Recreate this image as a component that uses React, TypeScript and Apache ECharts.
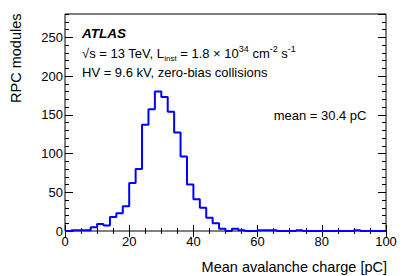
import React, { useEffect, useRef } from "react";
import * as echarts from "echarts";

// Histogram: bin width 2 pC, from 0 to 100 pC
const binWidth = 2;
const binStarts = Array.from({ length: 50 }, (_, i) => i * 2);
const counts = [
  0, 1, 1, 1, 5, 9, 7, 18, 23, 32,
  62, 80, 137, 157, 180, 173, 154, 127, 96, 60,
  41, 30, 17, 10, 3, 0, 3, 1, 0, 0,
  1, 1, 1, 0, 0, 0, 1, 0, 0, 0,
  0, 0, 0, 0, 0, 1, 0, 0, 0, 0,
];
const xTicks = [0, 20, 40, 60, 80, 100];
const yTicks = [0, 50, 100, 150, 200, 250];

const FONT = '"Liberation Sans", Arial, Helvetica, sans-serif';

export default function App() {
  const ref = useRef<HTMLDivElement>(null);
  useEffect(() => {
    if (!ref.current) return;
    const chart = echarts.init(ref.current, undefined, { renderer: "svg" });
    const data: [number, number][] = binStarts.map((x, i) => [x, counts[i]]);
    data.push([binStarts[binStarts.length - 1] + binWidth, counts[counts.length - 1]]);

    const tickStyle = { color: "#000", width: 1 };
    const baseX = {
      type: "value" as const,
      min: xTicks[0],
      max: xTicks[xTicks.length - 1],
      interval: 20,
      axisLine: { show: false },
      splitLine: { show: false },
      minorSplitLine: { show: false },
      axisTick: { show: true, inside: true, length: 6, lineStyle: tickStyle },
      minorTick: { show: true, splitNumber: 4, length: 3, lineStyle: tickStyle },
    };
    const baseY = (interval: number, len: number) => ({
      type: "value" as const,
      min: 0,
      max: 280,
      interval,
      axisLine: { show: false },
      splitLine: { show: false },
      axisTick: { show: true, inside: true, length: len, lineStyle: tickStyle },
      axisLabel: { show: false },
    });

    chart.setOption({
      animation: false,
      grid: {
        left: 65,
        right: 21,
        top: 14,
        bottom: 45,
        show: true,
        borderColor: "#000",
        borderWidth: 1,
        backgroundColor: "transparent",
        containLabel: false,
      },
      xAxis: [
        {
          ...baseX,
          position: "bottom",
          axisLabel: {
            show: true,
            fontSize: 13,
            fontFamily: FONT,
            color: "#000",
            margin: 4,
          },
        },
        { ...baseX, position: "top", axisLabel: { show: false } },
      ],
      yAxis: [
        {
          ...baseY(50, 8),
          position: "left",
          axisLabel: {
            show: true,
            fontSize: 13,
            fontFamily: FONT,
            color: "#000",
            margin: 2,
            showMaxLabel: false,
            formatter: (v: number) => (yTicks.includes(v) ? String(v) : ""),
          },
        },
        { ...baseY(10, 4), position: "left" },
        { ...baseY(50, 8), position: "right" },
        { ...baseY(10, 4), position: "right" },
      ],
      series: [
        {
          type: "line",
          xAxisIndex: 0,
          yAxisIndex: 0,
          step: "end",
          symbol: "none",
          clip: false,
          data,
          lineStyle: { color: "#0000ff", width: 2 },
          z: 5,
        },
      ],
      graphic: [
        {
          type: "text",
          x: 82,
          y: 33.5,
          style: {
            text: "ATLAS",
            fontFamily: FONT,
            fontSize: 13.5,
            fontWeight: "bold",
            fontStyle: "italic",
            fill: "#000",
            verticalAlign: "middle",
          },
        },
        {
          type: "text",
          x: 82,
          y: 53,
          style: {
            text:
              "{m|√s = 13 TeV, L}{sub|inst}{m| = 1.8 × 10}{sup|34}{m| cm}{sup|-2}{m| s}{sup|-1}",
            fontFamily: FONT,
            fontSize: 13,
            fill: "#000",
            verticalAlign: "middle",
            rich: {
              m: { fontFamily: FONT, fontSize: 13, lineHeight: 18, fill: "#000" },
              sub: { fontFamily: FONT, fontSize: 8, lineHeight: 10, verticalAlign: "bottom", fill: "#000" },
              sup: { fontFamily: FONT, fontSize: 9, lineHeight: 11, verticalAlign: "top", fill: "#000" },
            },
          },
        },
        {
          type: "text",
          x: 82,
          y: 72.5,
          style: {
            text: "HV = 9.6 kV, zero-bias collisions",
            fontFamily: FONT,
            fontSize: 13,
            fill: "#000",
            verticalAlign: "middle",
          },
        },
        {
          type: "text",
          x: 366.5,
          y: 115.5,
          style: {
            text: "mean = 30.4 pC",
            fontFamily: FONT,
            fontSize: 13,
            fill: "#000",
            align: "right",
            verticalAlign: "middle",
          },
        },
        {
          type: "text",
          x: 387,
          y: 267,
          style: {
            text: "Mean avalanche charge [pC]",
            fontFamily: FONT,
            fontSize: 14.5,
            fill: "#000",
            align: "right",
            verticalAlign: "middle",
          },
        },
        {
          type: "text",
          x: 16,
          y: 13.5,
          rotation: Math.PI / 2,
          style: {
            text: "RPC modules",
            fontFamily: FONT,
            fontSize: 14.5,
            fill: "#000",
            align: "right",
            verticalAlign: "middle",
          },
        },
      ],
    });
    return () => chart.dispose();
  }, []);
  return (
    <div
      ref={ref}
      style={{ position: "absolute", left: 0, top: 0, width: 407, height: 276 }}
    />
  );
}
